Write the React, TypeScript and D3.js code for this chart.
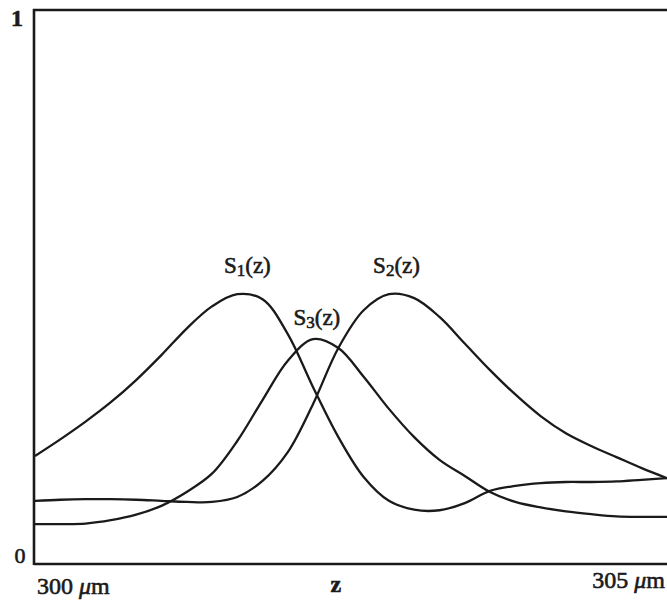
import React from "react";
import * as d3 from "d3";

// z positions (µm), 0.2 µm apart
const zValues = [
  300.0, 300.2, 300.4, 300.6, 300.8, 301.0, 301.2, 301.4, 301.6, 301.8, 302.0, 302.2, 302.4,
  302.6, 302.8, 303.0, 303.2, 303.4, 303.6, 303.8, 304.0, 304.2, 304.4, 304.6, 304.8, 305.0,
];

// normalised signals
const s1Values = [
  0.195, 0.225, 0.257, 0.292, 0.332, 0.377, 0.425, 0.465, 0.487, 0.478, 0.415, 0.319, 0.229,
  0.157, 0.114, 0.098, 0.097, 0.11, 0.132, 0.141, 0.146, 0.148, 0.148, 0.149, 0.152, 0.155,
];
const s2Values = [
  0.114, 0.116, 0.117, 0.117, 0.116, 0.114, 0.112, 0.112, 0.121, 0.15, 0.202, 0.289, 0.39,
  0.458, 0.487, 0.48, 0.446, 0.398, 0.35, 0.306, 0.267, 0.236, 0.213, 0.193, 0.173, 0.155,
];
const s3Values = [
  0.072, 0.072, 0.073, 0.079, 0.089, 0.105, 0.13, 0.163, 0.222, 0.296, 0.367, 0.406, 0.39,
  0.338, 0.28, 0.229, 0.188, 0.159, 0.13, 0.112, 0.102, 0.095, 0.09, 0.086, 0.085, 0.085,
];

// label anchors (centre z, baseline value)
const seriesLabels = [
  { sub: "1", z: 301.68, v: 0.525 },
  { sub: "2", z: 302.86, v: 0.525 },
  { sub: "3", z: 302.23, v: 0.431 },
];

const W = 667;
const H = 601;

export default function App() {
  const x = d3.scaleLinear().domain([300, 305]).range([35, 667]);
  const y = d3.scaleLinear().domain([0, 1]).range([564, 10]);

  const line = d3
    .line<number>()
    .x((_, i) => x(zValues[i]))
    .y((d) => y(d))
    .curve(d3.curveCatmullRom.alpha(0.5));

  const ink = "#1a1a1a";
  const font = "'Liberation Serif', 'Times New Roman', serif";

  return (
    <div style={{ position: "fixed", left: 0, top: 0 }}>
      <svg width={W} height={H} style={{ display: "block", background: "#fff" }}>
        <g fill="none" stroke={ink} strokeWidth={2.3} strokeLinejoin="round">
          {[s1Values, s2Values, s3Values].map((s, i) => (
            <path key={i} d={line(s) ?? ""} />
          ))}
        </g>
        {/* frame: left, bottom, top */}
        <g stroke={ink} strokeWidth={2.6}>
          <line x1={x(300) - 1} x2={x(300) - 1} y1={y(1) - 1} y2={y(0) + 1} />
          <line x1={x(300) - 1} x2={x(305)} y1={y(0)} y2={y(0)} />
          <line x1={x(300) - 2} x2={x(305)} y1={y(1)} y2={y(1)} />
        </g>
        <g fontFamily={font} fill={ink} stroke={ink} strokeWidth={0.6}>
          <text x={x(300) - 18} y={y(1) + 16} fontSize={24} fontWeight="bold" textAnchor="middle">
            1
          </text>
          <text x={x(300) - 15} y={y(0) - 1} fontSize={22} textAnchor="middle">
            0
          </text>
          <text x={x(300) + 2} y={594} fontSize={24}>
            300 <tspan fontStyle="italic">μ</tspan>m
          </text>
          <text x={x(302.38)} y={592} fontSize={24} fontWeight="bold" textAnchor="middle">
            z
          </text>
          <text x={x(305) - 2} y={588} fontSize={24} textAnchor="end">
            305 <tspan fontStyle="italic">μ</tspan>m
          </text>
          {seriesLabels.map((l) => (
            <text key={l.sub} x={x(l.z)} y={y(l.v)} fontSize={23} textAnchor="middle">
              S
              <tspan fontSize={17} dy={3}>
                {l.sub}
              </tspan>
              <tspan dy={-3}>(z)</tspan>
            </text>
          ))}
        </g>
      </svg>
    </div>
  );
}
